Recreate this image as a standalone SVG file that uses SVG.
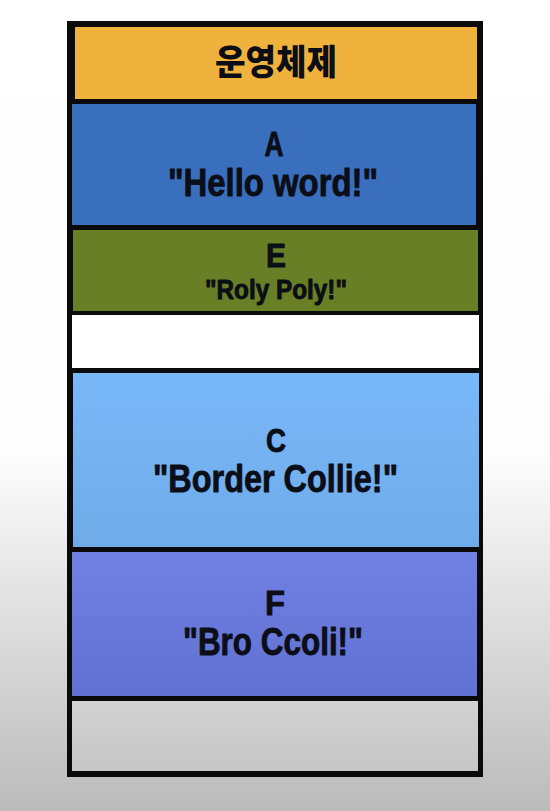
<svg xmlns="http://www.w3.org/2000/svg" width="550" height="811" viewBox="0 0 550 811">
  <defs>
    <linearGradient id="bg" x1="0" y1="0" x2="0" y2="1">
      <stop offset="0" stop-color="#ffffff"/>
      <stop offset="0.56" stop-color="#fdfdfd"/>
      <stop offset="1" stop-color="#bbbbbb"/>
    </linearGradient>
    <linearGradient id="gC" x1="0" y1="0" x2="0" y2="1">
      <stop offset="0" stop-color="#79b8f9"/>
      <stop offset="1" stop-color="#6fabe9"/>
    </linearGradient>
    <linearGradient id="gF" x1="0" y1="0" x2="0" y2="1">
      <stop offset="0" stop-color="#7081e3"/>
      <stop offset="1" stop-color="#6171d2"/>
    </linearGradient>
    <linearGradient id="gG" x1="0" y1="0" x2="0" y2="1">
      <stop offset="0" stop-color="#d2d2d2"/>
      <stop offset="1" stop-color="#c6c6c6"/>
    </linearGradient>
    <style>
      .t { font-family: "Liberation Sans", Arial, sans-serif; font-weight: bold; fill: #0b0e16; stroke: #0b0e16; stroke-width: 0.9; stroke-linejoin: round; text-anchor: middle; }
      .k { font-family: "Noto Sans CJK KR", "Noto Sans", sans-serif; font-weight: 900; fill: #0b0e16; text-anchor: middle; }
    </style>
  </defs>
  <rect x="0" y="0" width="550" height="811" fill="url(#bg)"/>
  <g id="frame">
    <rect x="67" y="21" width="416" height="756" fill="#0a0a0a"/>
  </g>
  <g id="os">
    <rect x="75" y="27" width="402" height="72" fill="#efb23c"/>
    <text class="k" x="276" y="75" font-size="35" textLength="122" lengthAdjust="spacingAndGlyphs">운영체제</text>
  </g>
  <g id="A">
    <rect x="72" y="104" width="404" height="121" fill="#3a6fbd"/>
    <text class="t" x="274" y="156" font-size="35" textLength="19" lengthAdjust="spacingAndGlyphs">A</text>
    <text class="t" x="273" y="196" font-size="39" textLength="210" lengthAdjust="spacingAndGlyphs">"Hello word!"</text>
  </g>
  <g id="E">
    <rect x="73" y="230" width="405" height="81" fill="#687f25"/>
    <text class="t" x="276" y="267" font-size="33" textLength="20" lengthAdjust="spacingAndGlyphs">E</text>
    <text class="t" x="276" y="299" font-size="28" textLength="142" lengthAdjust="spacingAndGlyphs">"Roly Poly!"</text>
  </g>
  <g id="empty1">
    <rect x="72" y="315" width="407" height="53" fill="#ffffff"/>
  </g>
  <g id="C">
    <rect x="73" y="373" width="406" height="174" fill="url(#gC)"/>
    <text class="t" x="276" y="452" font-size="33" textLength="20" lengthAdjust="spacingAndGlyphs">C</text>
    <text class="t" x="275.5" y="492" font-size="39" textLength="245" lengthAdjust="spacingAndGlyphs">"Border Collie!"</text>
  </g>
  <g id="F">
    <rect x="72" y="552" width="405" height="144" fill="url(#gF)"/>
    <text class="t" x="275" y="615" font-size="35" textLength="20" lengthAdjust="spacingAndGlyphs">F</text>
    <text class="t" x="273" y="655" font-size="39" textLength="180" lengthAdjust="spacingAndGlyphs">"Bro Ccoli!"</text>
  </g>
  <g id="empty2">
    <rect x="72" y="701" width="406" height="70" fill="url(#gG)"/>
  </g>
  <g id="connectors"/>
</svg>
